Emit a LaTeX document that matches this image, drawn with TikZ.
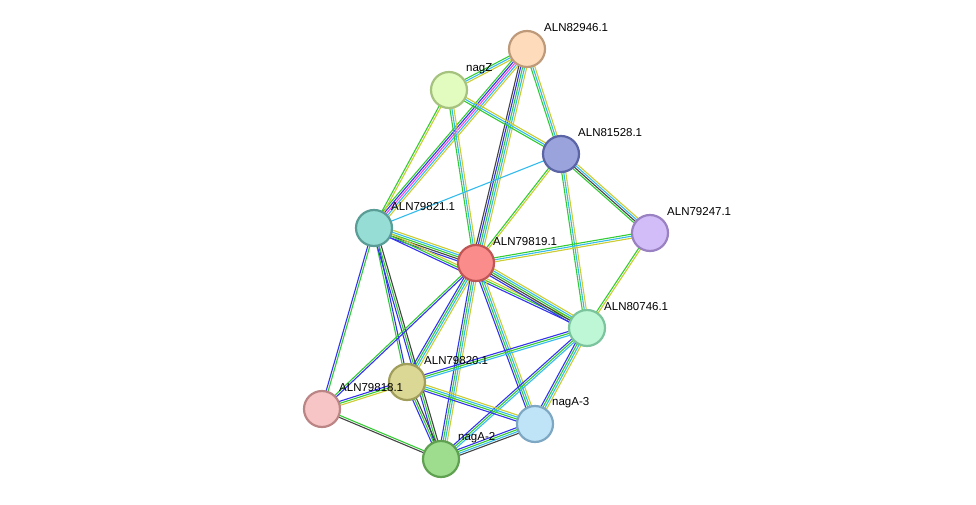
\documentclass[tikz,border=0pt]{standalone}
\usepackage{fontspec}
\setmainfont{Liberation Sans}
\usetikzlibrary{calc}
\definecolor{lgreen}{HTML}{33CC33}
\definecolor{lyellow}{HTML}{CCCC33}
\definecolor{lblue}{HTML}{3333EE}
\definecolor{lcyan}{HTML}{33BBEE}
\definecolor{ldark}{HTML}{444444}
\definecolor{lmag}{HTML}{EE44EE}
% parallel coloured lines between two centres
\newcommand\link[3]{%
  \foreach \c [count=\k] in {#3} {\xdef\nlk{\k}}%
  \foreach \c [count=\i] in {#3} {%
    \pgfmathsetmacro\o{(\i-(\nlk+1)/2)*2}%
    \draw[\c, line width=1.1pt] ($(#1)!\o pt!90:(#2)$) -- ($(#2)!\o pt!-90:(#1)$);}}
\begin{document}
\begin{tikzpicture}[x=1pt, y=-1pt,
    prot/.style={circle, minimum size=36pt, line width=2.2pt, inner sep=0pt},
    lbl/.style={anchor=west, font=\fontsize{11.5}{13}\selectfont, inner sep=0pt}]
  \useasboundingbox (0,0) rectangle (976,505);
  % centres
  \coordinate (p82946) at (527,49);
  \coordinate (nagZ) at (449,90);
  \coordinate (p81528) at (561,154);
  \coordinate (p79247) at (650,233);
  \coordinate (p79821) at (374,228);
  \coordinate (p79819) at (476,263);
  \coordinate (p80746) at (587,328);
  \coordinate (p79820) at (407,382);
  \coordinate (p79818) at (322,409);
  \coordinate (nagA3) at (535,424);
  \coordinate (nagA2) at (441,459);
  % edges
  \link{p82946}{nagZ}{lgreen,lcyan,lyellow}
  \link{p82946}{p81528}{lgreen,lcyan,lyellow}
  \link{p82946}{p79821}{lgreen,lblue,lmag,lcyan,lyellow}
  \link{p82946}{p79819}{ldark,lblue,lgreen,lcyan,lyellow}
  \link{nagZ}{p79821}{lgreen,lyellow}
  \link{nagZ}{p79819}{lgreen,lcyan,lyellow}
  \link{nagZ}{p81528}{lgreen,lcyan,lyellow}
  \link{p81528}{p79821}{lcyan}
  \link{p81528}{p79819}{lgreen,lyellow}
  \link{p81528}{p79247}{lgreen,ldark,lcyan,lyellow}
  \link{p81528}{p80746}{lgreen,lcyan,lyellow}
  \link{p79247}{p79819}{lgreen,lcyan,lyellow}
  \link{p79247}{p80746}{lgreen,lyellow}
  \link{p79821}{p79819}{lblue,ldark,lgreen,lcyan,lyellow}
  \link{p79821}{p80746}{lblue,lgreen,lyellow}
  \link{p79821}{p79818}{lblue,lgreen}
  \link{p79821}{p79820}{lgreen,lblue}
  \link{p79821}{nagA2}{lblue,lgreen,ldark}
  \link{p79819}{p80746}{lblue,ldark,lgreen,lcyan,lyellow}
  \link{p79819}{p79820}{lblue,lgreen,lcyan,lyellow}
  \link{p79819}{p79818}{lgreen,lblue}
  \link{p79819}{nagA3}{lblue,lgreen,lcyan,lyellow}
  \link{p79819}{nagA2}{lblue,lgreen,lcyan,lyellow}
  \link{p80746}{nagA3}{lblue,lgreen,lcyan,lyellow}
  \link{p80746}{nagA2}{lblue,lgreen,lcyan}
  \link{p80746}{p79820}{lblue,lgreen,lcyan}
  \link{p79820}{p79818}{lblue,lgreen,lyellow}
  \link{p79820}{nagA3}{lblue,lgreen,lcyan,lyellow}
  \link{p79820}{nagA2}{lblue,lgreen,ldark}
  \link{p79818}{nagA2}{ldark,lgreen}
  \link{nagA3}{nagA2}{lblue,lgreen,lcyan,ldark}
  % nodes
  \foreach \p/\f/\d/\t in {
      p82946/FDDBBB/BE9A7A/ALN82946.1, nagZ/E2FBBE/A6C27F/nagZ,
      p81528/9BA3DD/5B65A6/ALN81528.1, p79247/D3BDF8/9A82C2/ALN79247.1,
      p79821/96DDD5/5A9D96/ALN79821.1, p79819/FB8C8C/C05555/ALN79819.1,
      p80746/BDF7D6/7CC49D/ALN80746.1, p79820/DAD894/A09E5A/ALN79820.1,
      p79818/F7C5C5/BB8585/ALN79818.1, nagA3/BFE4F7/7DA7C2/nagA-3,
      nagA2/9EDD8E/5FA150/nagA-2} {
    \definecolor{fc}{HTML}{\f}\definecolor{dc}{HTML}{\d}
    \node[prot, fill=fc, draw=dc] (n\p) at (\p) {};
    \node[lbl] at ($(\p)+(17,-21)$) {\t};
  }
\end{tikzpicture}
\end{document}
